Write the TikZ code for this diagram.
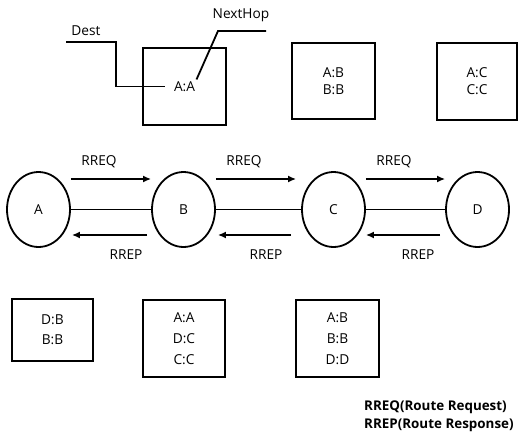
\documentclass[tikz,border=0pt]{standalone}
\usepackage{fontspec}
\setmainfont{Open Sans}
\usepackage{tikz}
\usetikzlibrary{arrows.meta,shapes.geometric}

\tikzset{
  station/.style={draw, ellipse, line width=1.8pt, minimum width=63pt, minimum height=75pt, inner sep=0pt},
  rtable/.style={draw, line width=1.8pt, align=center, inner sep=0pt, font=\fontsize{13.7}{17}\selectfont},
  msg/.style={-{Latex[length=8pt,width=7pt]}, line width=1.9pt},
  link/.style={line width=1.8pt},
  callout/.style={line width=1.8pt},
  lbl/.style={font=\fontsize{13.7}{15}\selectfont, inner sep=0pt}
}

\begin{document}
\begin{tikzpicture}[x=1pt, y=-1pt]

\useasboundingbox (0,0) rectangle (518,436);

% nodes

\node[station, lbl] (A) at (38.5, 209.5) {A};
\node[station, lbl] (B) at (183.5, 209.5) {B};
\node[station, lbl] (C) at (333.5, 209.5) {C};
\node[station, lbl] (D) at (477.5, 209.5) {D};

% routing tables above

\node[rtable, minimum width=83pt, minimum height=77pt] (tA) at (184.5, 86.5) {A:A};
\node[rtable, minimum width=83pt, minimum height=76pt] (tB) at (333.5, 81) {A:B\\B:B};
\node[rtable, minimum width=80pt, minimum height=77pt] (tC) at (477, 81.5) {A:C\\C:C};

% routing tables below

\node[rtable, minimum width=81pt, minimum height=62pt, font=\fontsize{13.7}{20}\selectfont] (tA2) at (52.5, 330) {D:B\\B:B};
\node[rtable, minimum width=82pt, minimum height=77pt, font=\fontsize{13.7}{21}\selectfont] (tB2) at (184, 338.5) {A:A\\D:C\\C:C};
\node[rtable, minimum width=83pt, minimum height=77pt, font=\fontsize{13.7}{21}\selectfont] (tC2) at (337.5, 338.5) {A:B\\B:B\\D:D};

% links

\draw[link] (A) -- (B);
\draw[link] (B) -- (C);
\draw[link] (C) -- (D);

% RREQ

\draw[msg] ([yshift=30.5pt]A.east) -- ([yshift=30.5pt]B.west);
\draw[msg] ([yshift=30.5pt]B.east) -- ([yshift=30.5pt, xshift=-5pt]C.west);
\draw[msg] ([yshift=30.5pt]C.east) -- ([yshift=30.5pt]D.west);

\node[lbl] (q1) at (99, 162) {RREQ};
\node[lbl] (q2) at (244, 162) {RREQ};
\node[lbl] (q3) at (394, 162) {RREQ};

% RREP

\draw[msg] ([yshift=-25.5pt, xshift=-4pt]B.west) -- ([yshift=-25.5pt, xshift=1pt]A.east);
\draw[msg] ([yshift=-25.5pt, xshift=-10pt]C.west) -- ([yshift=-25.5pt, xshift=2pt]B.east);
\draw[msg] ([yshift=-25.5pt, xshift=-5pt]D.west) -- ([yshift=-25.5pt]C.east);

\node[lbl] (p1) at (126, 255) {RREP};
\node[lbl] (p2) at (266, 255) {RREP};
\node[lbl] (p3) at (418, 255) {RREP};

% callouts

\node[lbl] (dest) at (86, 31) {Dest};
\node[lbl] (hop) at (241, 15) {NextHop};

\coordinate (destfoot) at (66, 42);
\coordinate (hopknee) at (218, 31);

\draw[callout] (destfoot) -- ++(50,0) |- ([xshift=-20pt]tA.center);
\draw[callout] ([shift={(12pt,7pt)}]tA.center) -- (hopknee) -- ++(48,0);

% legend

\node[lbl, anchor=west, font=\bfseries\fontsize{13.4}{15}\selectfont] (leg1) at (364, 407) {RREQ(Route Request)};
\node[lbl, anchor=west, font=\bfseries\fontsize{13.4}{15}\selectfont] (leg2) at (364, 425) {RREP(Route Response)};

\end{tikzpicture}
\end{document}
